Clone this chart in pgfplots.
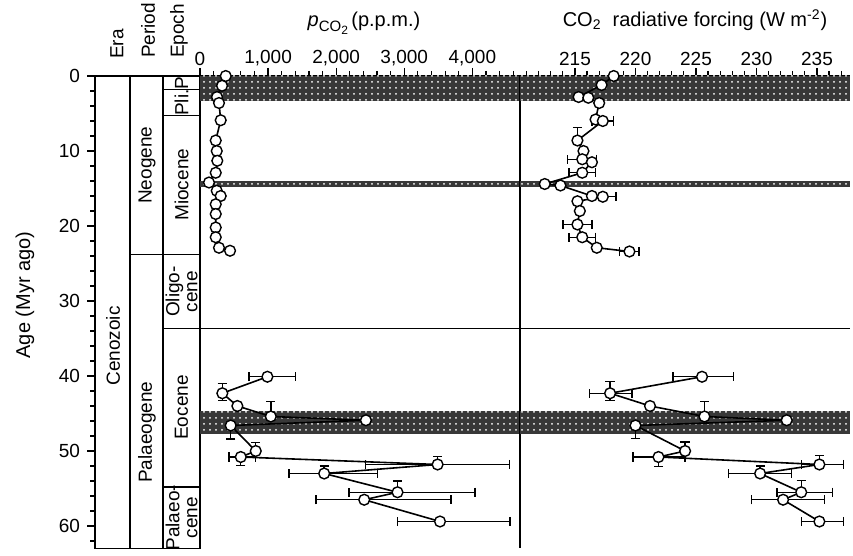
\documentclass[border=0pt]{standalone}
\usepackage{fontspec}
\setmainfont{Liberation Sans}
\usepackage{pgfplots}
\usepackage{pgfplotstable}
\pgfplotsset{compat=1.18}
\usetikzlibrary{patterns}

% Neogene boron-isotope record: age (Myr), pCO2 (p.p.m.)
\pgfplotstableread{
age  val
0.0  378
1.3  324
2.8  250
3.6  279
5.9  304
8.6  231
10.0 246
11.3 254
12.9 231
14.2 132
15.3 246
16.0 304
17.1 231
18.4 231
20.2 231
21.5 231
22.9 279
23.3 441
}\pcoNeo

% Palaeogene record with errors (x: p.p.m., y: Myr)
\pgfplotstableread{
age  val  exm  exp  eym eyp
40.1 990  269  417  0   0
42.3 328  0    0    1.3 1.0
44.0 549  0    0    0   0
45.4 1040 0    0    2.0 0
45.9 2437 0    0    0   0
46.6 451  0    0    0   1.8
50.0 819  0    0    1.1 0
50.8 599  173  220  0   1.1
51.8 3490 1060 1054 1.1 0
53.0 1824 515  779  1.0 0
55.5 2901 710  1139 1.5 0
56.5 2412 711  1275 0   0
59.4 3525 628  1029 0   0
}\pcoPal

% Radiative forcing (W m^-2), Neogene
\pgfplotstableread{
age  val   exm exp eym eyp
0.0  218.2 0   0   0   0
1.2  217.2 0   0   0   0
2.8  215.3 0   0   0   0
2.9  216.1 0   0   0   0
3.6  217.0 0   0   0   0
5.8  216.7 0   0   0   0
6.0  217.3 0.9 0.9 0   0
8.6  215.2 0   0   1.7 0
10.0 215.7 0   0   0   0
11.1 215.6 1.2 1.2 0   0
11.5 216.4 0   0   0   0
12.9 215.6 1.1 1.1 0   0
14.4 212.5 0   0   0   0
14.6 213.8 0   0   0   0
16.0 216.4 0   0   0   0
16.1 217.3 1.1 1.1 0   0
16.7 215.2 0   0   0   0
18.0 215.4 0   0   0   0
19.8 215.2 1.2 1.2 0   0
21.5 215.6 1.1 1.1 0   0
22.9 216.8 0   0   0   0
23.4 219.5 0.8 0.8 0   0
}\rfNeo

% Radiative forcing (W m^-2), Palaeogene
\pgfplotstableread{
age  val   exm exp eym eyp
40.1 225.5 2.4 2.6 0   0
42.3 217.9 1.7 1.8 1.6 1.0
44.0 221.2 0   0   0   0
45.4 225.7 0   0   2.0 0
45.9 232.5 0   0   0   0
46.6 220.0 0   0   0   1.7
50.0 224.1 0   0   1.2 0
50.8 221.9 2.1 2.2 0   1.3
51.8 235.2 1.5 2.0 1.2 0
53.0 230.3 2.6 2.6 1.0 0
55.5 233.7 2.0 2.6 1.6 0
56.5 232.2 2.6 3.4 0   0
59.4 235.2 1.5 2.0 0   0
}\rfPal

\newcommand\lab{\fontsize{9.5}{11}\selectfont}
\newcommand\ttl{\fontsize{10}{12}\selectfont}

\tikzset{
  band/.style={fill=black!78},
  bandgrain/.style={pattern=dots, pattern color=white},
}

\pgfplotsset{
  agepanel/.style={
    scale only axis, anchor=south west,
    height=236.25pt, ymin=0, ymax=63, y dir=reverse,
    axis line style={line width=0.7pt},
    every tick/.style={black, line width=0.6pt},
    major tick length=4pt, minor tick length=2.5pt,
    tick align=outside,
    tick label style={font=\lab},
    /pgf/number format/assume math mode=true,
  },
  datapanel/.style={
    agepanel,
    axis x line*=top, axis y line*=left,
    ytick=\empty, xticklabel style={yshift=-2.5pt},
    scaled x ticks=false,
  },
  series/.style={
    black, line width=0.8pt, mark=*, mark size=2.7pt,
    mark options={fill=white, draw=black, line width=0.7pt},
    error bars/.cd, x dir=both, x explicit, y dir=both, y explicit,
    error bar style={line width=0.7pt, black},
    error mark options={rotate=90, mark size=2.3pt, line width=0.7pt, black},
  },
}

\begin{document}
\begin{tikzpicture}
\path[use as bounding box] (0,0) rectangle (426.5pt,278pt);

% Stratigraphic columns
\begin{axis}[agepanel, at={(47.5pt,3.75pt)}, width=52.5pt,
  xmin=95, xmax=200, xtick=\empty,
  ytick={0,10,...,60}, minor ytick={0,2,...,62}, ytick pos=left,
  clip=false]
  \draw[line width=0.7pt] (axis cs:130,0) -- (axis cs:130,63);
  \draw[line width=0.7pt] (axis cs:163,0) -- (axis cs:163,63);
  \draw[line width=0.7pt] (axis cs:130,23.8) -- (axis cs:200,23.8);
  \draw[line width=0.7pt] (axis cs:163,1.8) -- (axis cs:200,1.8);
  \draw[line width=0.7pt] (axis cs:163,5.3) -- (axis cs:200,5.3);
  \draw[line width=0.7pt] (axis cs:163,33.7) -- (axis cs:200,33.7);
  \draw[line width=0.7pt] (axis cs:163,54.8) -- (axis cs:200,54.8);
  \node[rotate=90, font=\lab] at (axis cs:113,36) {Cenozoic};
  \node[rotate=90, font=\lab] at (axis cs:147,11.9) {Neogene};
  \node[rotate=90, font=\lab] at (axis cs:147,47.5) {Palaeogene};
  \node[rotate=90, font=\lab, inner sep=0pt] at (axis cs:181.5,0.9) {P};
  \node[rotate=90, font=\lab] at (axis cs:181.5,3.55) {Pli.};
  \node[rotate=90, font=\lab] at (axis cs:181.5,14.5) {Miocene};
  \node[rotate=90, font=\lab, align=center, inner sep=0pt] at (axis cs:181.5,28.75) {Oligo-\\[-2pt]cene};
  \node[rotate=90, font=\lab] at (axis cs:181.5,44.2) {Eocene};
  \node[rotate=90, font=\lab, align=center, inner sep=0pt] at (axis cs:181.5,58.9) {Palaeo-\\[-2pt]cene};
\end{axis}

% pCO2 panel
\begin{axis}[datapanel, at={(100pt,3.75pt)}, width=160pt,
  xmin=0, xmax=4700,
  xtick={0,1000,...,4000}, minor xtick={0,200,...,4600},
  xticklabel style={/pgf/number format/1000 sep={,}}]
  \fill[band] (axis cs:0,0) rectangle (axis cs:4700,3.4);
  \fill[bandgrain] (axis cs:0,0) rectangle (axis cs:4700,3.4);
  \fill[band] (axis cs:0,14.0) rectangle (axis cs:4700,14.8);
  \fill[bandgrain] (axis cs:0,14.0) rectangle (axis cs:4700,14.8);
  \fill[band] (axis cs:0,44.7) rectangle (axis cs:4700,47.8);
  \fill[bandgrain] (axis cs:0,44.7) rectangle (axis cs:4700,47.8);
  \draw[line width=0.7pt] (axis cs:0,33.7) -- (axis cs:4700,33.7);
  \addplot[series] table[x=val, y=age] {\pcoNeo};
  \addplot[series] table[x=val, y=age, x error minus=exm, x error plus=exp,
    y error minus=eym, y error plus=eyp] {\pcoPal};
\end{axis}

% Radiative forcing panel
\begin{axis}[datapanel, at={(260pt,3.75pt)}, width=165pt,
  xmin=210.455, xmax=237.73,
  xtick={215,220,...,235}, minor xtick={211,212,...,237}]
  \fill[band] (axis cs:210.455,0) rectangle (axis cs:237.73,3.4);
  \fill[bandgrain] (axis cs:210.455,0) rectangle (axis cs:237.73,3.4);
  \fill[band] (axis cs:210.455,14.0) rectangle (axis cs:237.73,14.8);
  \fill[bandgrain] (axis cs:210.455,14.0) rectangle (axis cs:237.73,14.8);
  \fill[band] (axis cs:210.455,44.7) rectangle (axis cs:237.73,47.8);
  \fill[bandgrain] (axis cs:210.455,44.7) rectangle (axis cs:237.73,47.8);
  \draw[line width=0.7pt] (axis cs:210.455,33.7) -- (axis cs:237.73,33.7);
  \addplot[series] table[x=val, y=age, x error minus=exm, x error plus=exp,
    y error minus=eym, y error plus=eyp] {\rfNeo};
  \addplot[series] table[x=val, y=age, x error minus=exm, x error plus=exp,
    y error minus=eym, y error plus=eyp] {\rfPal};
\end{axis}

% Column headings and titles
\node[rotate=90, anchor=west, font=\lab] at (58.5pt,245pt) {Era};
\node[rotate=90, anchor=west, font=\lab] at (74pt,245.5pt) {Period};
\node[rotate=90, anchor=west, font=\lab] at (89.5pt,245.5pt) {Epoch};
\node[anchor=base, font=\ttl] at (182pt,264.5pt)
  {\textit{p}\raisebox{-0.45ex}{\fontsize{7.5}{8}\selectfont CO\raisebox{-0.35ex}{\fontsize{6}{7}\selectfont 2}}\,(p.p.m.)};
\node[anchor=base, font=\ttl] at (347.5pt,264.5pt)
  {CO\textsubscript{2}\ \ radiative forcing (W m\textsuperscript{-2})};
\node[rotate=90, font=\ttl] at (12.5pt,130.5pt) {Age (Myr ago)};
\end{tikzpicture}
\end{document}
